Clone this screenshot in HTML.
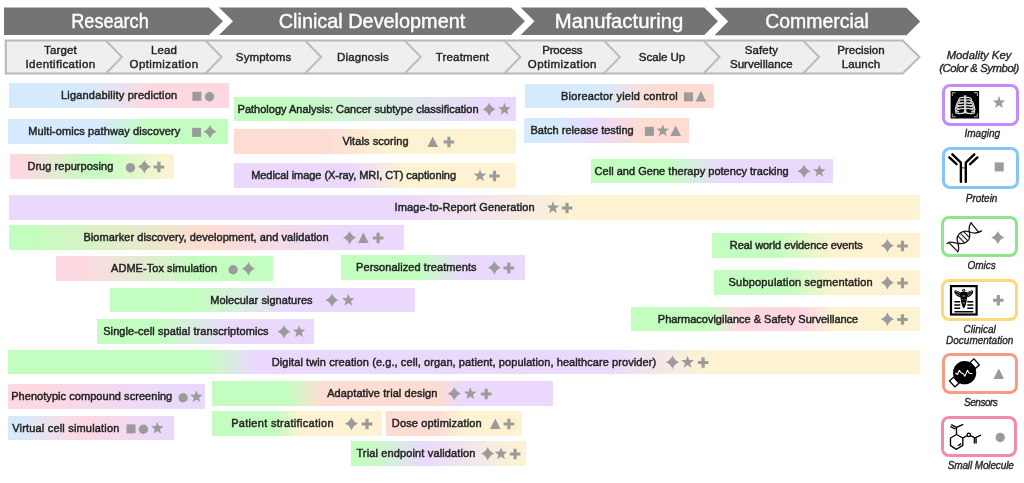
<!DOCTYPE html>
<html><head><meta charset="utf-8"><style>
*{margin:0;padding:0;box-sizing:border-box}
html,body{width:1024px;height:483px;overflow:hidden;background:#fff}
body{position:relative;font-family:"Liberation Sans",sans-serif;color:#232323}
#wrap{position:absolute;left:0;top:0;width:1024px;height:483px;will-change:transform}
.bar{position:absolute}
.bt{position:absolute;font-size:11px;white-space:nowrap;color:#222;padding-top:0px;-webkit-text-stroke:0.45px #222}
.st{position:absolute;width:100px;text-align:center;font-size:11.5px;line-height:13.9px;letter-spacing:0.15px;color:#222;-webkit-text-stroke:0.4px #222}
.hd{position:absolute;top:9px;width:300px;text-align:center;font-size:20.8px;color:#fff;line-height:23px;-webkit-text-stroke:0.4px #fff}
svg{position:absolute;left:0;top:0}
.key{position:absolute;font-style:italic;color:#262626;text-align:center;white-space:nowrap;-webkit-text-stroke:0.35px #262626}
.kb{position:absolute;left:942px;width:77px;height:42px;border:3px solid;border-radius:8px;background:#fff}
</style></head><body><div id="wrap">
<svg width="1024" height="483" viewBox="0 0 1024 483">
<g fill="#747474">
<polygon points="4,7.5 209,7.5 223,21.3 209,35 4,35"/>
<polygon points="219,7.5 511,7.5 525,21.3 511,35 219,35 233,21.3"/>
<polygon points="520.7,7.5 704.3,7.5 718,21.3 704.3,35 520.7,35 534.5,21.3"/>
<polygon points="714.5,7.7 906.5,7.7 920.2,21.4 906.5,35.2 714.5,35.2 728.2,21.4"/>
</g>
<path d="M5.75,40.5 H902.7 L919.5,57 L902.7,73.5 H5.75 Z" fill="#efefef" stroke="#b8b8b8" stroke-width="2"/>
<g fill="none" stroke="#bcbcbc" stroke-width="2"><polyline points="105.9,40.5 121.9,57 105.9,73.5" /><polyline points="205.5,40.5 221.5,57 205.5,73.5" /><polyline points="305.1,40.5 321.1,57 305.1,73.5" /><polyline points="404.7,40.5 420.7,57 404.7,73.5" /><polyline points="504.3,40.5 520.3,57 504.3,73.5" /><polyline points="603.9,40.5 619.9,57 603.9,73.5" /><polyline points="703.5,40.5 719.5,57 703.5,73.5" /><polyline points="803.1,40.5 819.1,57 803.1,73.5" /></g>
</svg>
<div class="hd" style="left:-40.2px;transform:scaleX(0.87)">Research</div><div class="hd" style="left:221.5px;transform:scaleX(0.955)">Clinical Development</div><div class="hd" style="left:469.20000000000005px;transform:scaleX(0.975)">Manufacturing</div><div class="hd" style="left:666.7px;transform:scaleX(0.935)">Commercial</div>
<div class="st" style="left:10.5px;top:44.0px">Target<br><span style="letter-spacing:0.38px">Identification</span></div><div class="st" style="left:114px;top:44.0px">Lead<br><span style="letter-spacing:0.42px">Optimization</span></div><div class="st" style="left:213.60000000000002px;top:51.0px">Symptoms</div><div class="st" style="left:313px;top:51.0px">Diagnosis</div><div class="st" style="left:412.5px;top:51.0px">Treatment</div><div class="st" style="left:512.3px;top:44.0px"><span style="letter-spacing:-0.18px">Process</span><br><span style="letter-spacing:0.42px">Optimization</span></div><div class="st" style="left:612px;top:51.0px"><span style="letter-spacing:-0.04px">Scale Up</span></div><div class="st" style="left:711.4px;top:44.0px">Safety<br><span style="letter-spacing:0.01px">Surveillance</span></div><div class="st" style="left:811px;top:44.0px"><span style="letter-spacing:0.0px">Precision</span><br>Launch</div>
<div class="bar" style="left:9px;top:83px;width:220px;height:25px;background:linear-gradient(to right,#D6EAFD 35.5%,#e1e6f6 42.6%,#ebe1ef 49.8%,#f4dde8 56.9%,#FDD8E1 64.1%)"></div><div class="bt" style="left:61.0px;top:83px;height:25px;line-height:25px;letter-spacing:0.183px">Ligandability prediction</div><div class="bar" style="left:8px;top:119px;width:220px;height:25px;background:linear-gradient(to right,#D6EAFD 41.8%,#d1efee 47.5%,#cdf4df 53.2%,#c8f9d0 58.9%,#C3FDBF 64.5%)"></div><div class="bt" style="left:28.2px;top:119px;height:25px;line-height:25px;letter-spacing:0.104px">Multi-omics pathway discovery</div><div class="bar" style="left:10px;top:154px;width:164px;height:25px;background:linear-gradient(to right,#FDD8E1 6.1%,#f0e2d9 17.1%,#e3ebd1 28.0%,#d4f4c8 39.0%,#C3FDBF 50.0%,#C3FDBF 54.9%,#d3fbc4 65.2%,#e1f8c9 75.6%,#f0f6cd 86.0%,#FDF3D2 96.3%)"></div><div class="bt" style="left:27.4px;top:154px;height:25px;line-height:25px;letter-spacing:0.06px">Drug repurposing</div><div class="bar" style="left:234px;top:97px;width:282px;height:24px;background:linear-gradient(to right,#C3FDBF 16.7%,#cef5d0 34.8%,#d8ece0 52.8%,#e1e3ef 70.9%,#EAD9FD 89.0%)"></div><div class="bt" style="left:237.6px;top:97px;height:24px;line-height:24px;letter-spacing:-0.0px">Pathology Analysis: Cancer subtype classification</div><div class="bar" style="left:234px;top:129px;width:282px;height:25px;background:linear-gradient(to right,#FDDCD3 32.6%,#fde2d3 38.2%,#fde8d3 43.8%,#fdedd2 49.4%,#FDF3D2 55.0%)"></div><div class="bt" style="left:342.4px;top:129px;height:25px;line-height:25px;letter-spacing:0.069px">Vitals scoring</div><div class="bar" style="left:234px;top:163px;width:282px;height:25px;background:linear-gradient(to right,#EAD9FD 40.8%,#efe0f3 45.8%,#f3e6e9 50.9%,#f8edde 55.9%,#FDF3D2 61.0%)"></div><div class="bt" style="left:251.2px;top:163px;height:25px;line-height:25px;letter-spacing:-0.055px">Medical image (X-ray, MRI, CT) captioning</div><div class="bar" style="left:525px;top:84px;width:189px;height:24px;background:linear-gradient(to right,#D6EAFD 38.6%,#e0e7f3 45.6%,#eae3e8 52.6%,#f4e0de 59.7%,#FDDCD3 66.7%)"></div><div class="bt" style="left:561.0px;top:84px;height:24px;line-height:24px;letter-spacing:0.209px">Bioreactor yield control</div><div class="bar" style="left:524px;top:118px;width:165px;height:25px;background:linear-gradient(to right,#D6EAFD 18.8%,#dbe6fd 25.0%,#e0e2fd 31.2%,#e5ddfd 37.4%,#EAD9FD 43.6%,#efdaf3 50.3%,#f3dbe8 57.0%,#f8dbde 63.6%,#FDDCD3 70.3%)"></div><div class="bt" style="left:530.4px;top:118px;height:25px;line-height:25px;letter-spacing:0.03px">Batch release testing</div><div class="bar" style="left:591px;top:159px;width:242px;height:24px;background:linear-gradient(to right,#C3FDBF 31.4%,#cef5d0 37.2%,#d8ece0 43.0%,#e1e3ef 48.8%,#EAD9FD 54.5%)"></div><div class="bt" style="left:594.6px;top:159px;height:24px;line-height:24px;letter-spacing:0.024px">Cell and Gene therapy potency tracking</div><div class="bar" style="left:9px;top:195px;width:911px;height:25px;background:linear-gradient(to right,#EAD9FD 42.9%,#efe0f3 47.8%,#f3e6e9 52.7%,#f8edde 57.6%,#FDF3D2 62.5%)"></div><div class="bt" style="left:394.6px;top:195px;height:25px;line-height:25px;letter-spacing:0.096px">Image-to-Report Generation</div><div class="bar" style="left:9px;top:225px;width:395px;height:25px;background:linear-gradient(to right,#C3FDBF 5.3%,#d4f5c4 17.0%,#e3edc9 28.7%,#f0e5ce 40.4%,#FDDCD3 52.2%,#f8dbde 60.1%,#f3dbe8 68.0%,#efdaf3 75.9%,#EAD9FD 83.8%)"></div><div class="bt" style="left:83.4px;top:225px;height:25px;line-height:25px;letter-spacing:0.07px">Biomarker discovery, development, and validation</div><div class="bar" style="left:56px;top:256px;width:217px;height:25px;background:linear-gradient(to right,#FDD8E1 12.0%,#f0e2d9 25.2%,#e3ebd1 38.5%,#d4f4c8 51.7%,#C3FDBF 65.0%)"></div><div class="bt" style="left:111.0px;top:256px;height:25px;line-height:25px;letter-spacing:0.05px">ADME-Tox simulation</div><div class="bar" style="left:341px;top:255px;width:184px;height:25px;background:linear-gradient(to right,#C3FDBF 42.9%,#cef5d0 49.0%,#d8ece0 55.2%,#e1e3ef 61.3%,#EAD9FD 67.4%)"></div><div class="bt" style="left:356.0px;top:255px;height:25px;line-height:25px;letter-spacing:0.091px">Personalized treatments</div><div class="bar" style="left:712px;top:233px;width:208px;height:25px;background:linear-gradient(to right,#C3FDBF 30.3%,#d3fbc4 37.4%,#e1f8c9 44.5%,#f0f6cd 51.6%,#FDF3D2 58.7%)"></div><div class="bt" style="left:729.8px;top:233px;height:25px;line-height:25px;letter-spacing:-0.06px">Real world evidence events</div><div class="bar" style="left:714px;top:270px;width:206px;height:25px;background:linear-gradient(to right,#C3FDBF 35.4%,#d3fbc4 41.9%,#e1f8c9 48.3%,#f0f6cd 54.7%,#FDF3D2 61.2%)"></div><div class="bt" style="left:728.6px;top:270px;height:25px;line-height:25px;letter-spacing:0.184px">Subpopulation segmentation</div><div class="bar" style="left:631px;top:307px;width:289px;height:24px;background:linear-gradient(to right,#C3FDBF 27.0%,#d4f4c8 29.6%,#e3ebd1 32.2%,#f0e2d9 34.8%,#FDD8E1 37.4%,#FDD8E1 60.2%,#fddfdd 62.7%,#fde6da 65.2%,#fdecd6 67.7%,#FDF3D2 70.2%)"></div><div class="bt" style="left:657.8px;top:307px;height:24px;line-height:24px;letter-spacing:-0.003px">Pharmacovigilance &amp; Safety Surveillance</div><div class="bar" style="left:110px;top:288px;width:305px;height:24px;background:linear-gradient(to right,#C3FDBF 28.5%,#cef5d0 35.9%,#d8ece0 43.3%,#e1e3ef 50.7%,#EAD9FD 58.0%)"></div><div class="bt" style="left:210.2px;top:288px;height:24px;line-height:24px;letter-spacing:0.047px">Molecular signatures</div><div class="bar" style="left:97px;top:319px;width:217px;height:25px;background:linear-gradient(to right,#C3FDBF 27.2%,#cef5d0 35.7%,#d8ece0 44.2%,#e1e3ef 52.8%,#EAD9FD 61.3%)"></div><div class="bt" style="left:103.2px;top:319px;height:25px;line-height:25px;letter-spacing:0.079px">Single-cell spatial transcriptomics</div><div class="bar" style="left:8px;top:350px;width:912px;height:24px;background:linear-gradient(to right,#C3FDBF 21.7%,#cef5d0 23.1%,#d8ece0 24.4%,#e1e3ef 25.7%,#EAD9FD 27.1%,#EAD9FD 66.0%,#efe0f3 68.6%,#f3e6e9 71.2%,#f8edde 73.8%,#FDF3D2 76.4%)"></div><div class="bt" style="left:271.8px;top:350px;height:24px;line-height:24px;letter-spacing:0.087px">Digital twin creation (e.g., cell, organ, patient, population, healthcare provider)</div><div class="bar" style="left:8px;top:384px;width:197px;height:25px;background:linear-gradient(to right,#FDD8E1 16.2%,#f8d8e8 32.7%,#f4d9ef 49.2%,#efd9f6 65.7%,#EAD9FD 82.2%)"></div><div class="bt" style="left:11.2px;top:384px;height:25px;line-height:25px;letter-spacing:0.05px">Phenotypic compound screening</div><div class="bar" style="left:8px;top:416px;width:166px;height:24px;background:linear-gradient(to right,#D6EAFD 4.2%,#e1e6f6 14.0%,#ebe1ef 23.8%,#f4dde8 33.6%,#FDD8E1 43.4%,#f8d8e8 56.2%,#f4d9ef 69.0%,#efd9f6 81.8%,#EAD9FD 94.6%)"></div><div class="bt" style="left:12.2px;top:416px;height:24px;line-height:24px;letter-spacing:0.186px">Virtual cell simulation</div><div class="bar" style="left:212px;top:381px;width:341px;height:25px;background:linear-gradient(to right,#C3FDBF 22.3%,#d4f5c4 24.9%,#e3edc9 27.4%,#f0e5ce 30.0%,#FDDCD3 32.6%,#FDDCD3 66.6%,#f8dbde 68.0%,#f3dbe8 69.5%,#efdaf3 71.0%,#EAD9FD 72.4%)"></div><div class="bt" style="left:327.2px;top:381px;height:25px;line-height:25px;letter-spacing:0.091px">Adaptative trial design</div><div class="bar" style="left:212px;top:411px;width:170px;height:25px;background:linear-gradient(to right,#C3FDBF 37.6%,#d3fbc4 41.3%,#e1f8c9 45.0%,#f0f6cd 48.7%,#FDF3D2 52.4%)"></div><div class="bt" style="left:231.2px;top:411px;height:25px;line-height:25px;letter-spacing:0.305px">Patient stratification</div><div class="bar" style="left:386px;top:411px;width:136px;height:25px;background:linear-gradient(to right,#FDDCD3 39.0%,#fde2d3 43.4%,#fde8d3 47.8%,#fdedd2 52.2%,#FDF3D2 56.6%)"></div><div class="bt" style="left:391.8px;top:411px;height:25px;line-height:25px;letter-spacing:0.156px">Dose optimization</div><div class="bar" style="left:351px;top:441px;width:175px;height:25px;background:linear-gradient(to right,#C3FDBF 8.0%,#cef5d0 16.6%,#d8ece0 25.1%,#e1e3ef 33.7%,#EAD9FD 42.3%,#efe0f3 55.9%,#f3e6e9 69.4%,#f8edde 83.0%,#FDF3D2 96.6%)"></div><div class="bt" style="left:356.4px;top:441px;height:25px;line-height:25px;letter-spacing:0.137px">Trial endpoint validation</div>
<svg width="1024" height="483" viewBox="0 0 1024 483">
<defs>
<rect id="sq" x="-4.5" y="-4.5" width="9" height="9" fill="#9b9b9b"/>
<circle id="ci" r="4.7" fill="#9b9b9b"/>
<path id="sp" d="M0,-6.7 Q1.8,-1.8 6.6,0 Q1.8,1.8 0,6.7 Q-1.8,1.8 -6.6,0 Q-1.8,-1.8 0,-6.7Z" fill="#9b9b9b"/>
<path id="st" d="M0.00,-6.60 L1.62,-2.22 L6.28,-2.04 L2.62,0.85 L3.88,5.34 L0.00,2.75 L-3.88,5.34 L-2.62,0.85 L-6.28,-2.04 L-1.62,-2.22Z" fill="#9b9b9b"/>
<path id="tr" d="M0,-5.3 L5.3,5.3 L-5.3,5.3Z" fill="#9b9b9b"/>
<path id="pl" d="M-1.6,-5.3 H1.6 V-1.5 H5.3 V1.5 H1.6 V5.3 H-1.6 V1.5 H-5.3 V-1.5 H-1.6Z" fill="#9b9b9b"/>
</defs>
<use href="#sq" x="196.9" y="96.35"/><use href="#ci" x="209.5" y="96.70"/><use href="#sq" x="196.6" y="132.35"/><use href="#sp" x="210.0" y="131.70"/><use href="#ci" x="130.5" y="167.70"/><use href="#sp" x="144.4" y="166.70"/><use href="#pl" x="158.9" y="167.05"/><use href="#sp" x="489.2" y="109.20"/><use href="#st" x="504.5" y="109.30"/><use href="#tr" x="432.7" y="141.70"/><use href="#pl" x="448.9" y="142.05"/><use href="#st" x="480.0" y="175.80"/><use href="#pl" x="494.5" y="176.05"/><use href="#sq" x="688.5" y="96.85"/><use href="#tr" x="700.9" y="96.20"/><use href="#sq" x="649.4" y="131.35"/><use href="#st" x="662.8" y="130.80"/><use href="#tr" x="675.7" y="130.70"/><use href="#sp" x="804.0" y="171.20"/><use href="#st" x="819.4" y="171.30"/><use href="#st" x="553.0" y="207.80"/><use href="#pl" x="567.0" y="208.05"/><use href="#sp" x="349.6" y="237.70"/><use href="#tr" x="363.4" y="237.70"/><use href="#pl" x="378.1" y="238.05"/><use href="#ci" x="233.1" y="269.70"/><use href="#sp" x="248.5" y="268.70"/><use href="#sp" x="494.4" y="267.70"/><use href="#pl" x="508.8" y="268.05"/><use href="#sp" x="887.4" y="245.70"/><use href="#pl" x="902.5" y="246.05"/><use href="#sp" x="887.4" y="282.70"/><use href="#pl" x="902.5" y="283.05"/><use href="#sp" x="887.4" y="319.20"/><use href="#pl" x="902.5" y="319.55"/><use href="#sp" x="332.0" y="300.20"/><use href="#st" x="348.3" y="300.30"/><use href="#sp" x="284.0" y="331.70"/><use href="#st" x="299.1" y="331.80"/><use href="#sp" x="672.5" y="362.20"/><use href="#st" x="687.6" y="362.30"/><use href="#pl" x="703.1" y="362.55"/><use href="#ci" x="183.1" y="397.70"/><use href="#st" x="196.4" y="396.80"/><use href="#sq" x="131.0" y="428.85"/><use href="#ci" x="143.4" y="429.20"/><use href="#st" x="157.3" y="428.30"/><use href="#sp" x="454.3" y="393.70"/><use href="#st" x="470.3" y="393.80"/><use href="#pl" x="486.2" y="394.05"/><use href="#sp" x="351.5" y="423.70"/><use href="#pl" x="367.0" y="424.05"/><use href="#tr" x="495.3" y="423.70"/><use href="#pl" x="508.9" y="424.05"/><use href="#sp" x="487.7" y="453.70"/><use href="#st" x="501.0" y="453.80"/><use href="#pl" x="515.1" y="454.05"/>
</svg>
<div class="key" style="left:932px;top:49.43px;width:94px;font-size:11.3px;line-height:12.7px">Modality Key<br><span style="letter-spacing:-0.4px">(Color &amp; Symbol)</span></div>
<div class="kb" style="left:941.7px;width:77.2px;top:83.9px;height:42.0px;border-color:#c48cfa"></div><div class="key" style="left:935.3px;top:128.88px;width:94px;font-size:10px;line-height:10.7px;letter-spacing:0px">Imaging</div><div class="kb" style="left:941.5px;width:77.3px;top:146.5px;height:42.0px;border-color:#84c6f8"></div><div class="key" style="left:934.6px;top:193.78px;width:94px;font-size:10px;line-height:10.7px;letter-spacing:0px">Protein</div><div class="kb" style="left:940.9px;width:76.7px;top:216.2px;height:40.8px;border-color:#8ee48c"></div><div class="key" style="left:934.6px;top:261.08px;width:94px;font-size:10px;line-height:10.7px;letter-spacing:0px">Omics</div><div class="kb" style="left:941.1px;width:77.1px;top:279.3px;height:41.5px;border-color:#f9d97a"></div><div class="key" style="left:932.7px;top:325.08px;width:94px;font-size:10px;line-height:10.7px;letter-spacing:0px">Clinical<br>Documentation</div><div class="kb" style="left:941.6px;width:76.2px;top:352.7px;height:41.0px;border-color:#f99a85"></div><div class="key" style="left:933.7px;top:398.08px;width:94px;font-size:10px;line-height:10.7px;letter-spacing:-0.5px">Sensors</div><div class="kb" style="left:941.4px;width:76.1px;top:415.8px;height:41.6px;border-color:#f28aab"></div><div class="key" style="left:933.7px;top:460.88px;width:94px;font-size:10px;line-height:10.7px;letter-spacing:-0.13px">Small Molecule</div><svg width="1024" height="483" viewBox="0 0 1024 483"><use href="#st" x="999" y="102.6"/><use href="#sq" x="999.2" y="166.9"/><use href="#sp" x="997.9" y="237.6"/><use href="#pl" x="998.3" y="300.3"/><use href="#tr" x="998.8" y="373.7"/><use href="#ci" x="1000.2" y="437.5"/><g>
<rect x="950.6" y="91" width="28.5" height="27.5" fill="#000"/>
<g fill="none" stroke="#c4c4c4" stroke-width="0.9">
<path d="M952.3,96 V92.7 H955.6 M973.9,92.7 H977.3 V96 M977.3,113.5 V116.8 H973.9 M955.6,116.8 H952.3 V113.5"/>
</g>
<g fill="none" stroke="#dadada" stroke-width="1.25" stroke-linecap="round"><path d="M963.8,97.4 C960.2,96.8 958.6,98.6 958.6,100.7 C958.6,102.2 960.2,103.2 962.0,103.5"/><path d="M966.4,97.4 C970.0,96.8 971.6,98.6 971.6,100.7 C971.6,102.2 970.0,103.2 968.2,103.5"/><path d="M963.8,100.1 C960.2,99.5 956.9,101.3 956.9,103.4 C956.9,104.9 958.5,105.9 960.3,106.2"/><path d="M966.4,100.1 C970.0,99.5 973.3,101.3 973.3,103.4 C973.3,104.9 971.7,105.9 969.9,106.2"/><path d="M963.8,102.9 C960.2,102.3 955.9,104.1 955.9,106.2 C955.9,107.7 957.5,108.7 959.3,109.0"/><path d="M966.4,102.9 C970.0,102.3 974.3,104.1 974.3,106.2 C974.3,107.7 972.7,108.7 970.9,109.0"/><path d="M963.8,105.7 C960.2,105.1 955.3,106.9 955.3,109.0 C955.3,110.5 956.9,111.5 958.7,111.8"/><path d="M966.4,105.7 C970.0,105.1 974.9,106.9 974.9,109.0 C974.9,110.5 973.3,111.5 971.5,111.8"/><path d="M963.8,108.6 C960.2,108.0 955.5,109.8 955.5,111.9 C955.5,113.4 959.0,114.2 963.6,113.2"/><path d="M966.4,108.6 C970.0,108.0 974.7,109.8 974.7,111.9 C974.7,113.4 971.2,114.2 966.6,113.2"/></g>
<rect x="964" y="95.3" width="2.3" height="16.8" fill="#cfcfcf"/>
<path d="M962.6,112.6 L965.1,110.6 L967.6,112.6 L965.1,113.5Z" fill="#e0e0e0"/>
</g>
<g fill="none" stroke="#000" stroke-width="2.4" stroke-linecap="round" stroke-linejoin="round">
<path d="M952.4,154.3 L960.9,162.6 V181.8"/>
<path d="M974.3,154.3 L965.8,162.6 V181.8"/>
<path d="M949.3,157.4 L956.6,164.2"/>
<path d="M977.4,157.4 L970.1,164.2"/>
</g>
<path d="M961,167.9 H965.7" stroke="#000" stroke-width="0.8"/>
<g fill="none" stroke="#161616" stroke-width="1.3" stroke-linecap="round" stroke-linejoin="round">
<path d="M957.8,251.8 C959.3,249 958.8,246 957.6,242 C956.5,238.5 957.5,235 960.5,232.8 C963,231 966,230.7 968.5,231.6 C971,232.5 973,233.3 975.5,233 C978,232.7 980,231.8 981.6,230.9"/>
<path d="M971.2,222.7 C969.6,225 968.7,228 969.3,231.5 C970,235 970.3,237.5 968.6,239.8 C966.5,242.5 963,243.8 959.5,243.5 C956,243.2 952,241.8 949.5,242.3 C948.5,242.5 947.6,243 947,243.6"/>
<path d="M949.6,243.4 L957.8,251.6 M971.2,223.2 L978.8,232.4"/>
</g>
<g stroke="#161616" stroke-width="1.1" stroke-linecap="round">
<path d="M958.3,236.3 L964.6,242.9 M960.6,233.6 L967.6,240.7 M963.9,231.9 L969.6,237.6"/>
</g>
<g>
<rect x="951" y="286.1" width="25.6" height="28.4" fill="#fff" stroke="#000" stroke-width="2.2"/>
<g stroke="#000" stroke-width="1.5">
<path d="M954.3,301.8 H960.2 M967.3,301.8 H973.3 M954.3,304.9 H960.2 M967.3,304.9 H973.3 M954.3,308.2 H960.2 M967.3,308.2 H973.3 M954.5,311.8 H973.3"/>
</g>
<path d="M961.3,293.2 C958.5,290.6 955.8,289.8 954.4,290.8 C954,293.4 956.6,296.6 960.8,297.6 Z" fill="#000"/>
<path d="M966.3,293.2 C969.1,290.6 971.8,289.8 973.2,290.8 C973.6,293.4 971,296.6 966.8,297.6 Z" fill="#000"/>
<path d="M955.6,291.6 C957.4,291.4 959.2,292.6 960.4,294.2 M956.2,293.8 C957.6,294.4 959,295.2 960.2,296.2 M972,291.6 C970.2,291.4 968.4,292.6 967.2,294.2 M971.4,293.8 C970,294.4 968.6,295.2 967.4,296.2" stroke="#fff" stroke-width="0.55" fill="none"/>
<path d="M960.6,292.4 C960.2,299 961.4,305.6 963.8,308.6 C966.2,305.6 967.4,299 967,292.4 C966,291.6 961.6,291.6 960.6,292.4Z" fill="#000"/>
<circle cx="963.8" cy="290.2" r="1.5" fill="#000"/>
<circle cx="963.8" cy="290.2" r="0.6" fill="#fff"/>
<path d="M962.2,296 H965.4 M961.8,299.6 H963 M964.6,299.6 H965.8 M962.6,303 H965" stroke="#fff" stroke-width="0.6"/>
</g>
<g>
<g transform="rotate(-42 964.65 372.7)">
<rect x="975.4" y="368.7" width="5.4" height="8" fill="#fff" stroke="#000" stroke-width="1.3"/>
<rect x="947.9" y="368.7" width="5.6" height="8" fill="#fff" stroke="#000" stroke-width="1.3"/>
</g>
<circle cx="964.65" cy="372.7" r="11.6" fill="#000"/>
<path d="M955.4,373 L957.6,374.5 L959.3,370.3 L961,372.8 L963.2,373.8 L964.8,376.2 L967.5,370.2 L969.2,373.3 L972.5,373.8" fill="none" stroke="#fff" stroke-width="1.1" stroke-linejoin="round"/>
</g>
<g fill="none" stroke="#000" stroke-width="1.35" stroke-linejoin="round">
<path d="M956.5,434.5 L962.8,438 V445.4 L956.5,449.3 L950.5,445.7 V438 Z"/>
<path d="M957.8,445.7 L961.2,443.6"/>
<path d="M956.5,434.5 V427.4 L963.2,424.3"/>
<path d="M956.5,427.4 L951.2,424.7 M955.5,429.2 L950.2,426.5"/>
<path d="M962.8,438 L966.6,435.8"/>
<circle cx="968.8" cy="434.9" r="1.7"/>
<path d="M970.6,435.7 L975.1,437.8 L981.1,435"/>
<path d="M974.4,437.8 V443.4 M976.1,438.2 V443.4"/>
</g></svg>
</div></body></html>
